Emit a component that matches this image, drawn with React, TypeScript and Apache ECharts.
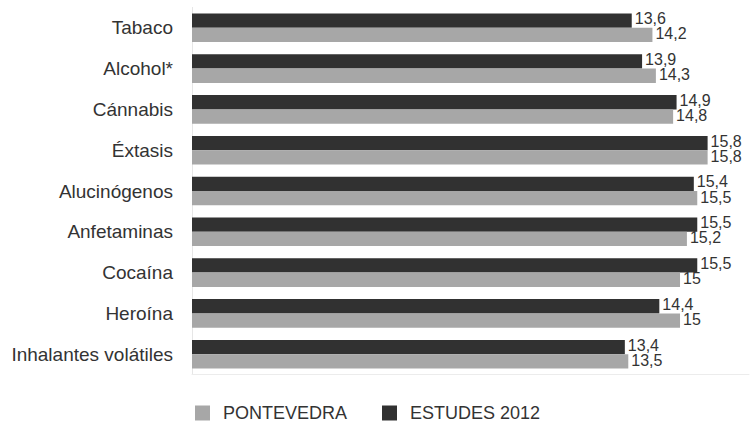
import React, { useEffect, useRef } from "react";
import * as echarts from "echarts";

// Edad media de inicio al consumo, por sustancia
const categories = [
  "Tabaco",
  "Alcohol*",
  "Cánnabis",
  "Éxtasis",
  "Alucinógenos",
  "Anfetaminas",
  "Cocaína",
  "Heroína",
  "Inhalantes volátiles",
];
const estudes2012 = [13.6, 13.9, 14.9, 15.8, 15.4, 15.5, 15.5, 14.4, 13.4];
const pontevedra = [14.2, 14.3, 14.8, 15.8, 15.5, 15.2, 15, 15, 13.5];

const DARK = "#313131";
const GRAY = "#a7a7a7";
const FONT = "'Liberation Sans', Arial, Helvetica, sans-serif";

const fmt = (v: number) => String(v).replace(".", ",");

export default function App() {
  const ref = useRef<HTMLDivElement>(null);

  useEffect(() => {
    document.body.style.margin = "0";
    if (!ref.current) return;
    const chart = echarts.init(ref.current, undefined, { renderer: "svg" });
    chart.setOption({
      animation: false,
      backgroundColor: "#ffffff",
      textStyle: { fontFamily: FONT },
      grid: { left: 192, right: 4, top: 7.4, height: 367.2 },
      legend: {
        data: ["PONTEVEDRA", "ESTUDES 2012"],
        left: 195,
        top: 404,
        padding: 0,
        itemWidth: 15,
        itemHeight: 15,
        itemGap: 35,
        icon: "rect",
        textStyle: {
          fontFamily: FONT,
          fontSize: 18,
          color: "#333",
          lineHeight: 18,
          padding: [0, 0, 0, 8],
        },
      },
      xAxis: {
        type: "value",
        min: 0.85,
        max: 17,
        axisLine: { show: true, lineStyle: { color: "#ececec" } },
        axisTick: { show: false },
        axisLabel: { show: false },
        splitLine: { show: false },
      },
      yAxis: {
        type: "category",
        data: categories,
        inverse: true,
        axisLine: { show: true, lineStyle: { color: "#e6e6e6" } },
        axisTick: { show: false },
        axisLabel: {
          fontFamily: FONT,
          fontSize: 19,
          color: "#333",
          margin: 19,
        },
      },
      series: [
        {
          name: "ESTUDES 2012",
          type: "bar",
          data: estudes2012,
          barWidth: 14.3,
          barGap: "0%",
          itemStyle: { color: DARK },
          label: {
            show: true,
            position: "right",
            distance: 3,
            offset: [0, -2],
            fontFamily: FONT,
            fontSize: 16,
            color: "#333",
            formatter: (p: any) => fmt(p.value),
          },
        },
        {
          name: "PONTEVEDRA",
          type: "bar",
          data: pontevedra,
          barWidth: 14.3,
          barGap: "0%",
          itemStyle: { color: GRAY },
          label: {
            show: true,
            position: "right",
            distance: 3,
            offset: [0, -1],
            fontFamily: FONT,
            fontSize: 16,
            color: "#333",
            formatter: (p: any) => fmt(p.value),
          },
        },
      ],
    });
    return () => chart.dispose();
  }, []);

  return <div ref={ref} style={{ width: 753, height: 424 }} />;
}
